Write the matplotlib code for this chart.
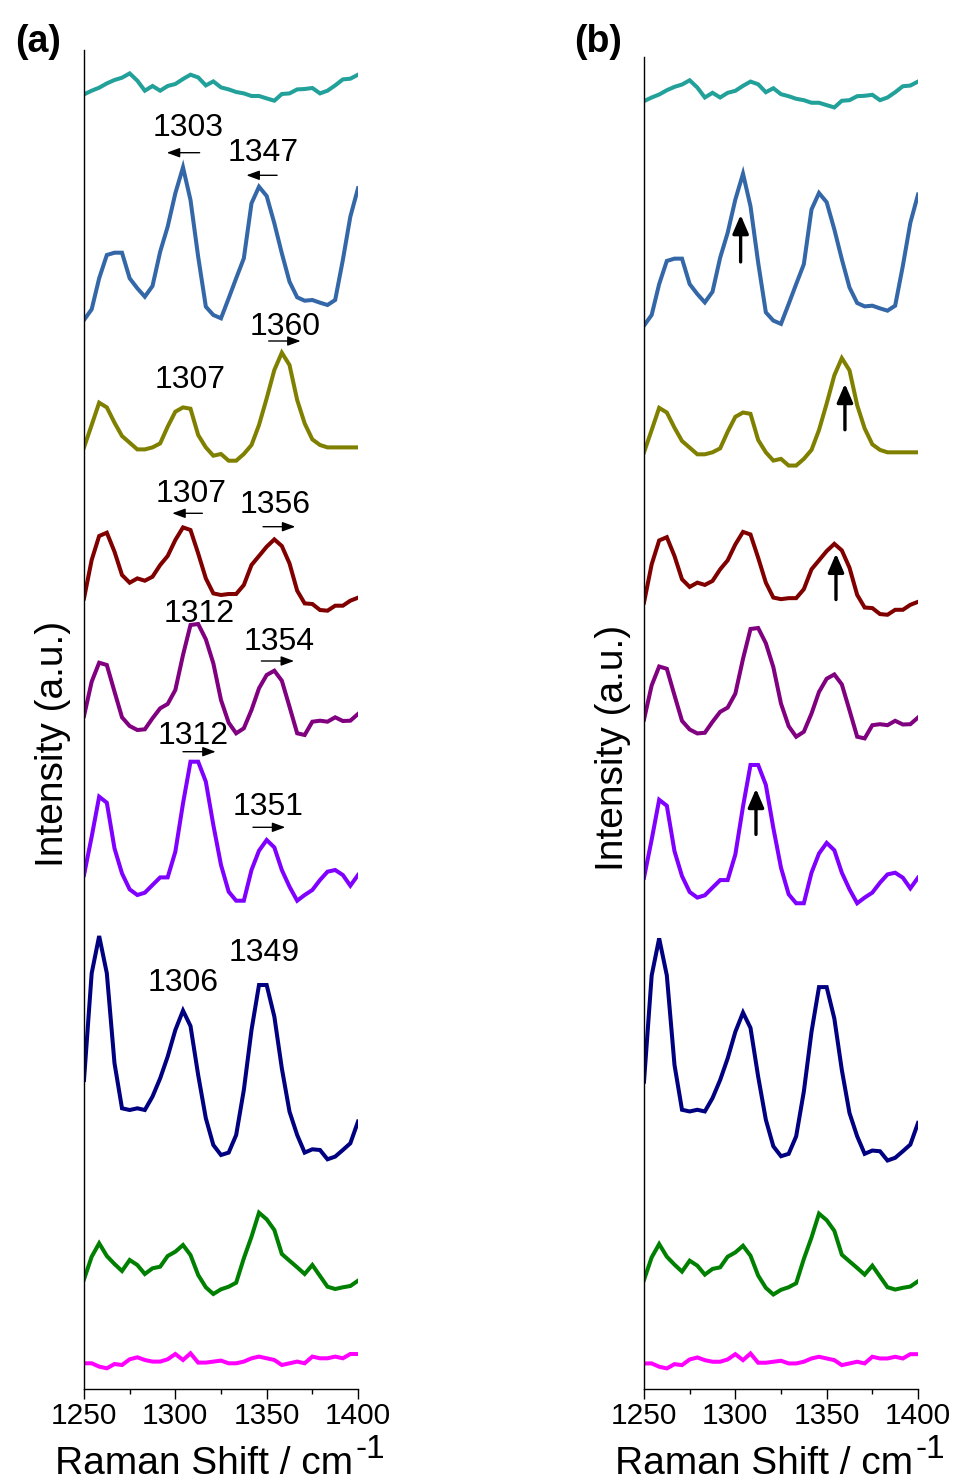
"""
拉曼光谱堆叠图 (a) 峰位移动标注 / (b) 强度增强箭头
输出: out.png
"""
import numpy as np
import matplotlib
matplotlib.use('Agg')
import matplotlib.pyplot as plt

plt.rcParams['font.family'] = ['Liberation Sans', 'DejaVu Sans']

# ========== 数据 ==========
shift = [1250.0, 1254.2, 1258.3, 1262.5, 1266.7, 1270.8, 1275.0, 1279.2, 1283.3,
         1287.5, 1291.7, 1295.8, 1300.0, 1304.2, 1308.3, 1312.5, 1316.7, 1320.8,
         1325.0, 1329.2, 1333.3, 1337.5, 1341.7, 1345.8, 1350.0, 1354.2, 1358.3,
         1362.5, 1366.7, 1370.8, 1375.0, 1379.2, 1383.3, 1387.5, 1391.7, 1395.8,
         1400.0]

teal = [6.3, 10.0, 13.0, 17.3, 20.7, 23.0, 27.3, 20.0, 10.0, 14.7, 10.0, 14.7,
        16.7, 21.7, 26.0, 23.3, 15.3, 19.3, 13.3, 11.3, 8.7, 7.3, 4.7, 4.7,
        2.3, 0.0, 6.7, 7.3, 11.3, 11.7, 12.7, 7.3, 10.0, 15.3, 21.3, 22.0, 26.0]
blue = [0.0, 10.7, 41.7, 65.0, 67.3, 67.3, 41.7, 31.7, 23.3, 34.0, 68.3, 93.3,
        126.7, 152.7, 120.0, 63.3, 13.3, 5.0, 1.7, 21.7, 41.7, 61.7, 116.7, 133.3,
        124.0, 96.7, 66.7, 38.3, 22.7, 19.3, 20.0, 17.3, 15.0, 20.0, 60.0, 103.3, 131.7]
olive = [13.3, 35.7, 58.0, 53.3, 38.0, 24.7, 18.0, 11.3, 11.3, 13.3, 17.3, 34.0,
         49.0, 53.3, 52.0, 25.7, 13.3, 5.0, 6.7, 0.0, 0.0, 6.7, 15.7, 35.7,
         62.3, 90.7, 108.0, 95.7, 60.7, 37.3, 21.3, 15.7, 13.3, 13.3, 13.3, 13.3, 13.3]
wine = [12.3, 50.7, 74.7, 78.0, 59.0, 35.7, 28.0, 32.3, 30.0, 34.0, 45.7, 54.7,
        70.7, 83.3, 80.7, 57.3, 32.3, 17.3, 15.7, 16.7, 16.7, 25.7, 45.7, 54.7,
        64.0, 71.3, 64.7, 47.3, 20.0, 7.3, 6.7, 0.7, 0.0, 5.0, 5.0, 10.0, 13.0]
purple = [19.0, 53.3, 72.3, 70.0, 43.3, 17.7, 9.0, 5.0, 5.7, 16.7, 26.7, 31.0,
          45.0, 80.0, 110.0, 111.0, 95.7, 71.7, 35.0, 12.3, 1.7, 6.7, 25.0, 46.7,
          60.0, 64.3, 54.3, 28.3, 1.7, 0.0, 13.3, 14.3, 13.3, 17.7, 14.0, 14.3, 21.0]
violet = [25.7, 64.0, 104.0, 98.0, 52.3, 27.3, 11.3, 5.7, 8.0, 15.7, 23.3, 23.3,
          49.0, 97.3, 139.0, 139.0, 119.0, 75.7, 35.7, 9.0, 0.0, 0.0, 30.7, 50.0,
          60.7, 53.3, 30.7, 14.0, 0.0, 5.7, 10.7, 20.7, 29.0, 30.7, 25.7, 15.0, 25.7]
navy = [79.3, 186.0, 223.3, 186.0, 96.0, 51.0, 49.3, 51.0, 49.3, 62.7, 81.0, 102.7,
        129.3, 148.7, 133.3, 84.3, 41.0, 14.3, 4.3, 6.7, 24.3, 69.3, 129.3, 174.3,
        174.3, 142.7, 91.0, 47.7, 24.3, 6.7, 10.0, 9.3, 0.0, 2.7, 9.3, 16.0, 37.7]
green = [14.7, 37.3, 50.7, 38.0, 30.0, 23.0, 34.0, 29.0, 20.0, 25.7, 27.3, 38.0,
         42.3, 49.0, 39.0, 19.0, 6.7, 0.0, 4.7, 7.3, 11.3, 35.7, 57.3, 81.3,
         74.7, 64.0, 40.0, 33.3, 26.7, 20.0, 29.0, 18.0, 7.3, 5.0, 6.7, 8.0, 13.3]
magenta = [5.0, 5.0, 1.7, 0.0, 4.3, 3.3, 9.0, 11.0, 8.3, 6.7, 6.7, 9.0,
           14.3, 8.3, 15.0, 5.7, 5.7, 6.7, 7.7, 5.0, 5.0, 6.7, 10.0, 11.7,
           10.0, 8.3, 3.3, 5.0, 6.7, 5.0, 11.7, 10.0, 10.0, 11.7, 10.0, 14.3, 14.3]

spectra = [teal, blue, olive, wine, purple, violet, navy, green, magenta]
colors = ['#22A09A', '#3467A8', '#808000', '#800000', '#800080',
          '#8000FF', '#000080', '#008000', '#FF00FF']
offsets = [1288.3, 1069.0, 928.3, 778.3, 654.0, 488.3, 229.7, 95.0, 20.7]

# (a) 峰位标注
peak_text = ['1303', '1347', '1360', '1307', '1307', '1356',
             '1312', '1354', '1312', '1351', '1306', '1349']
peak_tx = [1306.9, 1348.0, 1360.0, 1307.9, 1308.8, 1354.4,
           1313.0, 1357.1, 1309.7, 1350.7, 1304.2, 1348.9]
peak_ty = [1252.5, 1227.5, 1054.2, 1000.8, 886.8, 875.8,
           766.8, 739.2, 644.8, 573.5, 397.5, 427.5]

# (a) 位移箭头: 起点 -> 终点
shift_x0 = [1313.3, 1355.7, 1351.1, 1314.8, 1348.0, 1347.1, 1304.2, 1342.5]
shift_x1 = [1295.3, 1338.9, 1368.6, 1298.3, 1365.7, 1365.0, 1322.1, 1360.2]
shift_y = [1236.3, 1213.7, 1048.0, 875.7, 862.3, 728.0, 637.3, 561.7]

# (b) 增强箭头
up_x = [1302.9, 1360.0, 1355.1, 1311.3]
up_y0 = [1133.0, 964.3, 793.6, 557.5]
up_y1 = [1180.3, 1010.5, 839.8, 603.4]

W, H = 955, 1481
fig = plt.figure(figsize=(W / 100, H / 100), dpi=100)


def px(x, y):
    return x / W, 1 - y / H


def make_axes(left, top, bottom=1389):
    ax = fig.add_axes([left / W, 1 - bottom / H, 274 / W, (bottom - top) / H])
    x = np.array(shift)
    for y, off, c in zip(spectra, offsets, colors):
        ax.plot(x, np.array(y) + off, color=c, lw=2.9, solid_joinstyle='miter')
    ax.set_xlim(1250, 1400)
    ax.set_ylim(0, 1339)
    ax.spines['top'].set_visible(False)
    ax.spines['right'].set_visible(False)
    ax.spines['left'].set_linewidth(1.0)
    ax.spines['bottom'].set_linewidth(1.0)
    ax.set_yticks([])
    ax.set_xticks([1250, 1300, 1350, 1400])
    ax.set_xticks([1275, 1325, 1375], minor=True)
    ax.tick_params(axis='x', which='major', length=7, width=1, labelsize=21.5, pad=2.5)
    ax.tick_params(axis='x', which='minor', length=3.5, width=1)
    return ax


ax_a = make_axes(84, 50)
ax_b = make_axes(644, 57)

# ========== (a) 标注 ==========
for t, tx, ty in zip(peak_text, peak_tx, peak_ty):
    ax_a.text(tx, ty, t, fontsize=23, ha='center', va='baseline')
for x0, x1, y in zip(shift_x0, shift_x1, shift_y):
    ax_a.annotate('', xy=(x1, y), xytext=(x0, y),
                  arrowprops=dict(arrowstyle='-|>,head_length=0.6,head_width=0.22',
                                  lw=1.0, color='black', mutation_scale=13,
                                  shrinkA=0, shrinkB=0))

# ========== (b) 箭头 ==========
for x, y0, y1 in zip(up_x, up_y0, up_y1):
    ax_b.annotate('', xy=(x, y1), xytext=(x, y0),
                  arrowprops=dict(arrowstyle='-|>,head_length=0.7,head_width=0.3',
                                  lw=2.4, color='black', mutation_scale=16,
                                  shrinkA=0, shrinkB=0))

# ========== 轴标签与面板编号 ==========
for dx, yl in [(0, 744), (560, 748)]:
    fig.text(*px(353 + dx, 1473.5), 'Raman Shift / cm', fontsize=28,
             ha='right', va='baseline')
    fig.text(*px(355 + dx, 1458.5), '-1', fontsize=24, ha='left', va='baseline')
    fig.text(*px(53 + dx, yl), 'Intensity (a.u.)', fontsize=28, rotation=90,
             ha='center', va='center')

fig.text(*px(38, 42), '(a)', fontsize=27, fontweight='bold', ha='center', va='center')
fig.text(*px(598, 42), '(b)', fontsize=27, fontweight='bold', ha='center', va='center')

plt.savefig('out.png', dpi=100)
